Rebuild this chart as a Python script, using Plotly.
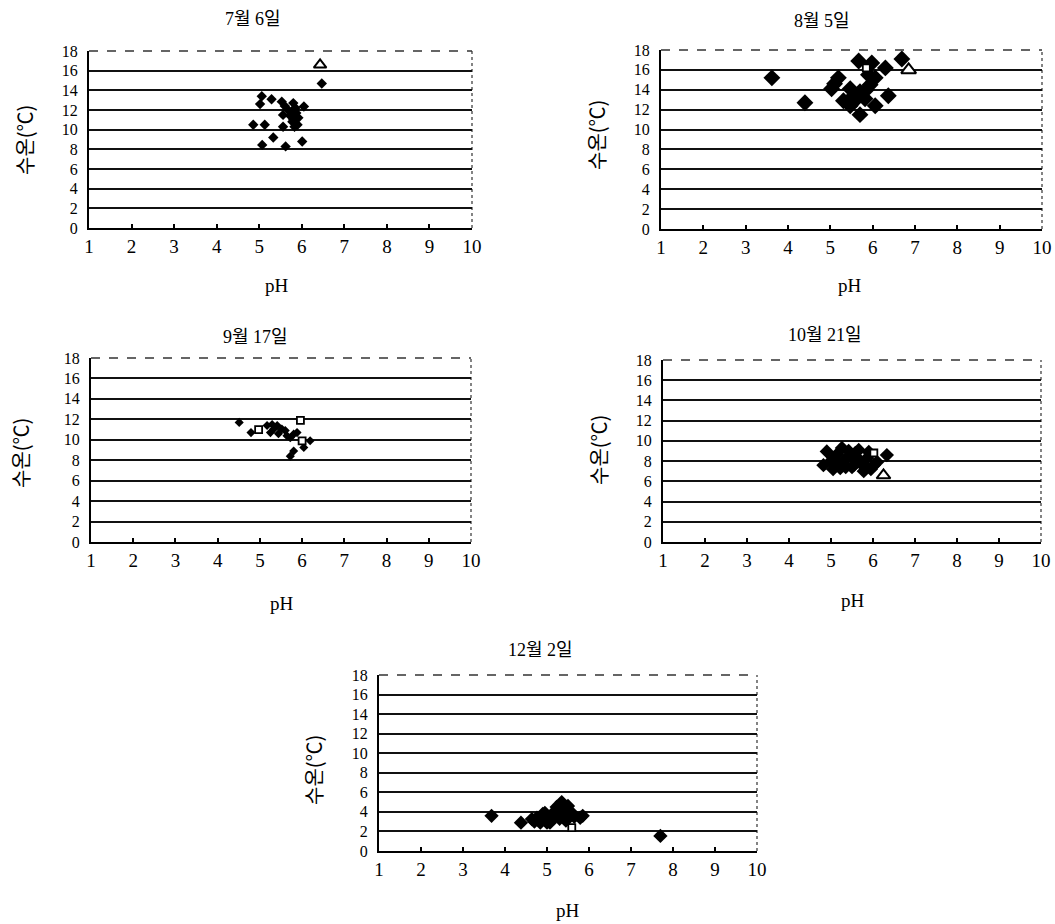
import plotly.graph_objects as go

# ---- survey data: pH vs water temperature (수온, ℃) ----
titles = ["7월 6일", "8월 5일", "9월 17일", "10월 21일", "12월 2일"]
x_ticks = [1, 2, 3, 4, 5, 6, 7, 8, 9, 10]
y_ticks = [0, 2, 4, 6, 8, 10, 12, 14, 16, 18]

# 7월 6일
ph_jul = [6.47, 5.06, 5.02, 5.29, 5.53, 5.60, 5.80, 6.05, 5.56, 5.87, 5.80, 5.90, 5.83,
          4.86, 5.13, 5.56, 5.33, 5.07, 5.62, 6.01, 5.80, 5.73, 5.85, 5.78, 5.92, 5.68]
t_jul = [14.7, 13.4, 12.6, 13.1, 12.85, 12.4, 12.7, 12.35, 11.5, 11.7, 11.0, 10.5, 10.3,
         10.5, 10.5, 10.3, 9.2, 8.45, 8.3, 8.8, 12.0, 11.4, 12.2, 10.8, 11.2, 12.0]
ph_jul_sq = []
t_jul_sq = []
ph_jul_tri = [6.43]
t_jul_tri = [16.6]

# 8월 5일
ph_aug = [3.62, 4.40, 5.19, 5.03, 5.31, 5.47, 5.47, 5.70, 5.67, 5.98, 6.30, 6.69,
          5.70, 5.82, 5.94, 6.06, 5.90, 6.06, 6.37, 5.55, 5.85, 5.10, 5.60]
t_aug = [15.2, 12.7, 15.2, 14.1, 12.9, 12.4, 14.1, 11.5, 16.9, 16.7, 16.2, 17.1,
         13.8, 13.1, 14.5, 15.2, 15.5, 12.4, 13.4, 13.4, 14.0, 14.6, 13.0]
ph_aug_sq = [5.85]
t_aug_sq = [16.2]
ph_aug_tri = [6.85]
t_aug_tri = [16.0]

# 9월 17일
ph_sep = [4.51, 4.79, 5.17, 5.29, 5.41, 5.52, 5.25, 5.44, 5.33, 5.72, 5.80, 5.88,
          6.19, 6.04, 5.80, 5.72, 5.64, 5.60]
t_sep = [11.7, 10.7, 11.4, 11.5, 11.4, 11.05, 10.7, 10.6, 11.05, 10.2, 10.55, 10.7,
         9.9, 9.25, 8.9, 8.4, 10.4, 10.9]
ph_sep_sq = [4.97, 5.96, 6.00]
t_sep_sq = [11.0, 11.9, 9.9]
ph_sep_tri = []
t_sep_tri = []

# 10월 21일
ph_oct = [4.90, 4.82, 5.06, 5.26, 5.38, 5.54, 5.66, 5.78, 5.86, 5.22, 6.02, 6.33,
          5.46, 5.70, 5.10, 5.58, 5.95, 5.00, 5.15, 5.30, 5.42, 5.50, 5.62, 5.75,
          5.85, 6.10, 5.35, 5.05, 5.90]
t_oct = [8.96, 7.6, 8.3, 9.3, 8.3, 7.6, 9.1, 7.0, 8.3, 7.3, 7.6, 8.6,
         8.6, 8.0, 7.9, 8.8, 7.2, 8.0, 8.7, 8.0, 9.0, 7.4, 8.3, 7.6,
         7.4, 7.9, 7.4, 7.2, 8.9]
ph_oct_sq = [6.02]
t_oct_sq = [8.8]
ph_oct_tri = [6.25]
t_oct_tri = [6.6]

# 12월 2일
ph_dec = [3.68, 4.38, 4.64, 4.84, 5.00, 5.15, 5.35, 5.23, 5.47, 5.59, 5.79, 5.07,
          4.76, 7.70, 4.95, 5.30, 4.90, 5.10, 5.25, 5.40, 5.50, 5.65, 5.85, 4.70,
          5.00, 5.45]
t_dec = [3.6, 2.9, 3.26, 2.9, 3.6, 3.9, 5.0, 4.5, 3.4, 3.9, 3.4, 2.9,
         3.4, 1.54, 3.9, 3.3, 3.8, 3.2, 3.7, 4.2, 4.6, 3.5, 3.6, 3.0,
         2.9, 3.1]
ph_dec_sq = [5.59]
t_dec_sq = [2.4]
ph_dec_tri = []
t_dec_tri = []

panels = [
    (ph_jul, t_jul, ph_jul_sq, t_jul_sq, ph_jul_tri, t_jul_tri),
    (ph_aug, t_aug, ph_aug_sq, t_aug_sq, ph_aug_tri, t_aug_tri),
    (ph_sep, t_sep, ph_sep_sq, t_sep_sq, ph_sep_tri, t_sep_tri),
    (ph_oct, t_oct, ph_oct_sq, t_oct_sq, ph_oct_tri, t_oct_tri),
    (ph_dec, t_dec, ph_dec_sq, t_dec_sq, ph_dec_tri, t_dec_tri),
]

# ---- layout geometry (pixels on a 1055 x 924 canvas) ----
W, H = 1055, 924
boxes = [  # left, right, top, bottom of each plotting area
    (89, 472, 51, 228),
    (661, 1042, 50, 229),
    (91, 471, 358, 542),
    (663, 1041, 360, 542),
    (379, 757, 675, 851),
]
diamond_sizes = [8, 13, 7, 11, 11]
triangle_sizes = [11, 13, 10, 12, 10]
title_pos = [(253, 19), (822, 21), (255, 337), (825, 335), (540, 650)]
ph_pos = [(277, 285), (850, 285), (282, 603), (853, 600), (568, 910)]
ytitle_pos = [(25, 140), (597, 135), (20, 453), (598, 450), (313, 770)]

SERIF = "Liberation Serif, DejaVu Serif, Noto Sans CJK KR, serif"
SANS = "Noto Sans CJK KR, sans-serif"

fig = go.Figure()
layout = dict(
    width=W, height=H, margin=dict(l=0, r=0, t=0, b=0),
    paper_bgcolor="white", plot_bgcolor="white", showlegend=False,
    annotations=[], shapes=[],
)

for i, (box, data) in enumerate(zip(boxes, panels)):
    l, r, t, b = box
    xa = "xaxis" if i == 0 else f"xaxis{i+1}"
    ya = "yaxis" if i == 0 else f"yaxis{i+1}"
    xr = "x" if i == 0 else f"x{i+1}"
    yr = "y" if i == 0 else f"y{i+1}"

    layout[xa] = dict(
        domain=[l / W, r / W], anchor=yr, range=[1, 10], automargin=False,
        tickvals=x_ticks, ticktext=[str(v) for v in x_ticks],
        showgrid=False, zeroline=False, showline=True, linecolor="black", linewidth=2,
        ticks="inside", ticklen=4, tickwidth=1.5, tickcolor="black",
        tickfont=dict(family=SERIF, size=19, color="black"),
    )
    layout[ya] = dict(
        domain=[1 - b / H, 1 - t / H], anchor=xr, range=[0, 18], automargin=False,
        tickvals=y_ticks, ticktext=[str(v) for v in y_ticks],
        showgrid=True, gridcolor="#111111", gridwidth=1.8,
        zeroline=False, showline=True, linecolor="black", linewidth=2,
        ticks="outside", ticklen=6, tickcolor="white",
        tickfont=dict(family=SERIF, size=16, color="black"),
    )

    ph, tw, ph_sq, tw_sq, ph_tri, tw_tri = data
    fig.add_trace(go.Scatter(
        x=ph, y=tw, mode="markers", xaxis=xr, yaxis=yr,
        marker=dict(symbol="diamond", size=diamond_sizes[i], color="black",
                    line=dict(width=0)),
    ))
    fig.add_trace(go.Scatter(
        x=ph_sq, y=tw_sq, mode="markers", xaxis=xr, yaxis=yr,
        marker=dict(symbol="square", size=7, color="white",
                    line=dict(width=1.8, color="black")),
    ))
    fig.add_trace(go.Scatter(
        x=ph_tri, y=tw_tri, mode="markers", xaxis=xr, yaxis=yr,
        marker=dict(symbol="triangle-up", size=triangle_sizes[i], color="white",
                    line=dict(width=2, color="black")),
    ))

    # broken top border and light right border of the frame
    layout["shapes"] += [
        dict(type="line", xref="paper", yref="paper",
             x0=l / W, x1=r / W, y0=1 - t / H, y1=1 - t / H, layer="below",
             line=dict(color="#333333", width=1.3, dash="dash")),
        dict(type="line", xref="paper", yref="paper",
             x0=r / W, x1=r / W, y0=1 - b / H, y1=1 - t / H, layer="below",
             line=dict(color="#333333", width=1.2, dash="dot")),
    ]

    tx, ty = title_pos[i]
    px, py = ph_pos[i]
    yx, yy = ytitle_pos[i]
    layout["annotations"] += [
        dict(text=titles[i], x=tx / W, y=1 - ty / H, xref="paper", yref="paper",
             showarrow=False, xanchor="center", yanchor="middle",
             font=dict(family=SERIF, size=18, color="black")),
        dict(text="pH", x=px / W, y=1 - py / H, xref="paper", yref="paper",
             showarrow=False, xanchor="center", yanchor="middle",
             font=dict(family=SERIF, size=19, color="black")),
        dict(text="수온(℃)", x=yx / W, y=1 - yy / H, xref="paper", yref="paper",
             showarrow=False, xanchor="center", yanchor="middle", textangle=-90,
             font=dict(family=SANS, size=20, color="black")),
    ]

fig.update_layout(**layout)
fig.write_html("out.html")
